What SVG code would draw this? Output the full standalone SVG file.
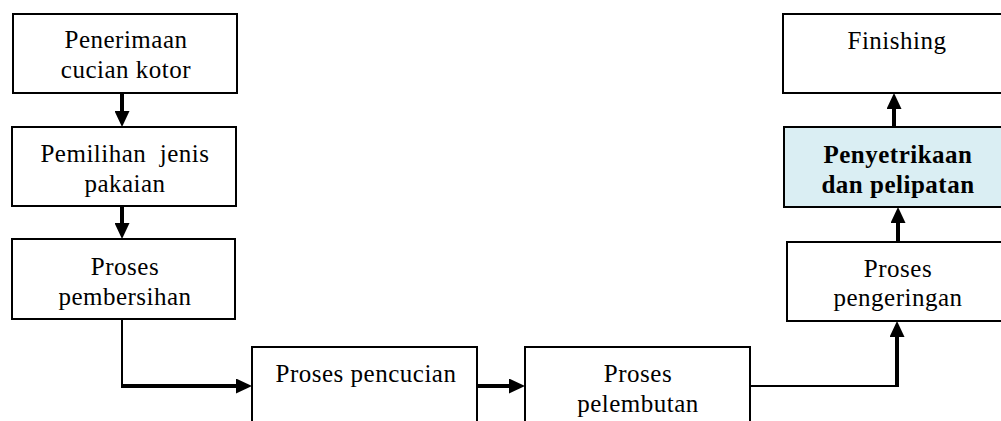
<svg xmlns="http://www.w3.org/2000/svg" width="1001" height="421" viewBox="0 0 1001 421">
  <style>
    .box { fill: #ffffff; stroke: #000000; stroke-width: 2; }
    .hl { fill: #daeef3; }
    .lbl { font-family: "Liberation Serif", "Times New Roman", serif; font-size: 25px; letter-spacing: 0.5px; fill: #000000; text-anchor: middle; }
    .bold { font-weight: bold; }
    .thin { fill: none; stroke: #000000; stroke-width: 2; }
    .thick { fill: none; stroke: #000000; stroke-width: 4; }
  </style>
  <defs>
    <marker id="head" viewBox="0 0 16 15" refX="4" refY="7.5" markerUnits="userSpaceOnUse" markerWidth="16" markerHeight="15" orient="auto">
      <path d="M0,0 L16,7.5 L0,15 Z" fill="#000000"/>
    </marker>
  </defs>

  <!-- left column -->
  <g id="penerimaan">
    <rect class="box" x="13" y="14" width="224" height="79"/>
    <text class="lbl" x="126" y="48">Penerimaan</text>
    <text class="lbl" x="126" y="78">cucian kotor</text>
  </g>
  <g id="pemilihan">
    <rect class="box" x="12" y="127" width="224" height="79"/>
    <text class="lbl" x="125" y="162" xml:space="preserve">Pemilihan  jenis</text>
    <text class="lbl" x="125" y="192">pakaian</text>
  </g>
  <g id="pembersihan">
    <rect class="box" x="12" y="239" width="223" height="80"/>
    <text class="lbl" x="125" y="275">Proses</text>
    <text class="lbl" x="125" y="305">pembersihan</text>
  </g>

  <!-- bottom row -->
  <g id="pencucian">
    <rect class="box" x="252" y="347" width="225" height="90"/>
    <text class="lbl" x="366" y="382">Proses pencucian</text>
  </g>
  <g id="pelembutan">
    <rect class="box" x="525" y="347" width="225" height="90"/>
    <text class="lbl" x="638" y="382">Proses</text>
    <text class="lbl" x="638" y="412">pelembutan</text>
  </g>

  <!-- right column -->
  <g id="pengeringan">
    <rect class="box" x="787" y="242" width="224" height="79"/>
    <text class="lbl" x="898" y="277">Proses</text>
    <text class="lbl" x="898" y="306">pengeringan</text>
  </g>
  <g id="penyetrikaan">
    <rect class="box hl" x="784" y="127" width="226" height="80"/>
    <text class="lbl bold" x="898" y="163">Penyetrikaan</text>
    <text class="lbl bold" x="898" y="193">dan pelipatan</text>
  </g>
  <g id="finishing">
    <rect class="box" x="783" y="14" width="226" height="79"/>
    <text class="lbl" x="897" y="49">Finishing</text>
  </g>

  <!-- connectors -->
  <g id="connectors">
    <line class="thick" x1="122" y1="93" x2="122" y2="115" marker-end="url(#head)"/>
    <line class="thick" x1="122" y1="206" x2="122" y2="227" marker-end="url(#head)"/>
    <line class="thin" x1="122" y1="319" x2="122" y2="386"/>
    <line class="thick" x1="121" y1="386" x2="240" y2="386" marker-end="url(#head)"/>
    <line class="thick" x1="477" y1="386" x2="513" y2="386" marker-end="url(#head)"/>
    <line class="thin" x1="750" y1="386" x2="898" y2="386"/>
    <line class="thick" x1="897" y1="387" x2="897" y2="333" marker-end="url(#head)"/>
    <line class="thick" x1="898" y1="242" x2="898" y2="219" marker-end="url(#head)"/>
    <line class="thick" x1="894" y1="127" x2="894" y2="105" marker-end="url(#head)"/>
  </g>
</svg>
